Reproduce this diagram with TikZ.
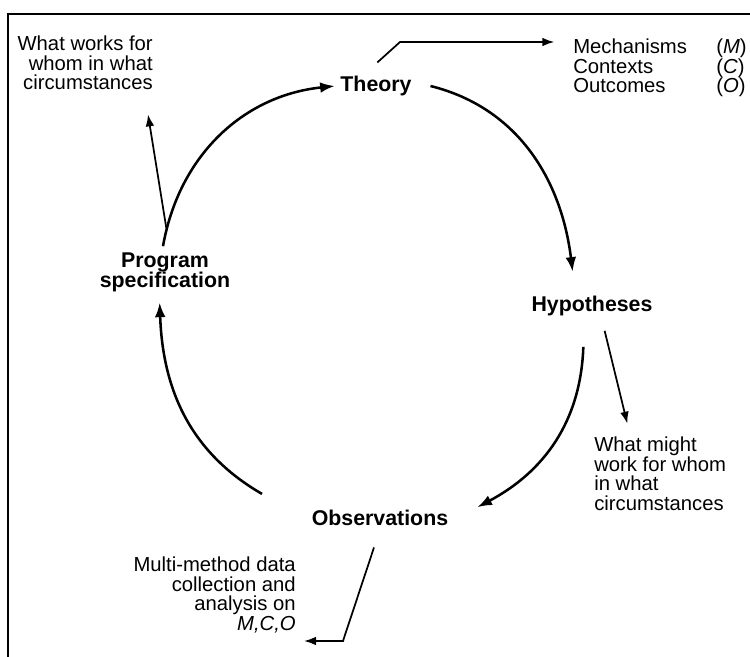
\documentclass[tikz,border=0pt]{standalone}
\usepackage{fontspec}
\setmainfont{Liberation Sans}
\usetikzlibrary{arrows.meta}
\begin{document}
\begin{tikzpicture}[x=0.75pt,y=0.75pt,
  lbl/.style={font=\fontsize{15.2}{14.6}\selectfont, inner sep=0pt},
  key/.style={font=\fontsize{16}{15}\selectfont\bfseries, inner sep=0pt, align=center},
  cyc/.style={line width=1.9pt, -{Latex[length=11pt,width=8pt]}},
  thinarrow/.style={line width=1.3pt, -{Latex[length=9pt,width=6.5pt]}}]
\useasboundingbox (0,0) rectangle (750,-657);
\draw[line width=1.4pt] (8,-657) -- (8,-14) -- (750,-14);

\node[key] (theory) at (376,-86) {Theory};
\node[key] (hyp) at (592,-306) {Hypotheses};
\node[key] (obs) at (380,-518) {Observations};
\node[key] (prog) at (165,-272) {Program\\specification};

\node[lbl, align=right, anchor=north east] (works) at (153,-36) {What works for\\whom in what\\circumstances};
\node[lbl, align=left, anchor=north west] (might) at (594,-437) {What might\\work for whom\\in what\\circumstances};
\node[lbl, align=right, anchor=north east] (multi) at (296,-557) {Multi-method data\\collection and\\analysis on\\\textit{M,C,O}};
\node[lbl, align=left, anchor=north west] (mco) at (573,-39) {Mechanisms\\Contexts\\Outcomes};
\node[lbl, align=left, anchor=north west] (mcol) at (716,-39) {(\textit{M})\\(\textit{C})\\(\textit{O})};

% cycle
\draw[cyc] (prog.north) ++(-2,6) to[out=80,in=186] ([xshift=-4pt]theory.west);
\draw[cyc] ([xshift=14pt]theory.east) to[out=-14,in=97] ([xshift=-14.5pt,yshift=18pt]hyp.north);
\draw[cyc] ([xshift=-6.5pt,yshift=-23pt]hyp.south) to[out=-92,in=28] ([xshift=73pt,yshift=2pt]obs.north);
\draw[cyc] ([xshift=-88.5pt,yshift=12pt]obs.north) to[out=150,in=-88] ([xshift=-4pt,yshift=-8pt]prog.south);

% side arrows
\coordinate (bend1) at (400,-42);
\draw[thinarrow] ([xshift=1pt,yshift=10pt]theory.north) -- (bend1) -- ([xshift=-14pt]mco.north west |- bend1);
\draw[thinarrow] ([xshift=1pt,yshift=18pt]prog.north) -- ([xshift=-3.75pt,yshift=-18pt]works.south east);
\draw[thinarrow] ([xshift=9.5pt,yshift=-11pt]hyp.south) -- ([xshift=25pt,yshift=10pt]might.north west);
\coordinate (bend2) at (343,-641);
\draw[thinarrow] ([xshift=-4.5pt,yshift=-16pt]obs.south) -- (bend2) -- ([xshift=6pt]multi.east |- bend2);
\end{tikzpicture}
\end{document}
